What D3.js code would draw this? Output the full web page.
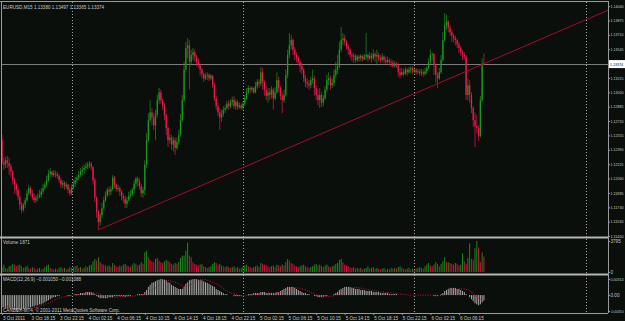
<!DOCTYPE html>
<html>
<head>
<meta charset="utf-8">
<script src="https://cdn.jsdelivr.net/npm/d3@7"></script>
<style>
html, body { margin: 0; padding: 0; background: #0b0f0c; }
svg { display: block; font-family: "Liberation Sans", Arial, sans-serif; }
</style>
</head>
<body>
<div id="main"></div>
<script>
// EURUSD M15, 3 Oct 14:15 .. 6 Oct 09:45 (open of each bar = previous close)
const firstOpen = 1.1250;
const closes = [
 1.1225,1.1222,1.1227,1.1224,1.1220,1.1214,1.1204,1.1199,1.1193,1.1185,
 1.1176,1.1170,1.1176,1.1181,1.1189,1.1195,1.1189,1.1184,1.1181,1.1184,
 1.1185,1.1187,1.1191,1.1195,1.1199,1.1204,1.1211,1.1214,1.1210,1.1212,
 1.1211,1.1209,1.1204,1.1199,1.1201,1.1197,1.1199,1.1193,1.1189,1.1195,
 1.1200,1.1204,1.1207,1.1210,1.1214,1.1216,1.1218,1.1220,1.1222,1.1223,
 1.1219,1.1204,1.1184,1.1168,1.1156,1.1164,1.1172,1.1181,1.1187,1.1193,
 1.1191,1.1194,1.1207,1.1199,1.1194,1.1195,1.1191,1.1186,1.1183,1.1177,
 1.1181,1.1186,1.1188,1.1193,1.1200,1.1206,1.1203,1.1197,1.1189,1.1193,
 1.1222,1.1250,1.1273,1.1282,1.1276,1.1267,1.1279,1.1296,1.1305,1.1296,
 1.1290,1.1279,1.1264,1.1250,1.1253,1.1245,1.1250,1.1241,1.1248,1.1256,
 1.1273,1.1296,1.1331,1.1356,1.1359,1.1340,1.1348,1.1351,1.1346,1.1340,
 1.1336,1.1331,1.1326,1.1321,1.1324,1.1325,1.1321,1.1324,1.1313,1.1298,
 1.1289,1.1282,1.1276,1.1280,1.1285,1.1287,1.1292,1.1289,1.1294,1.1296,
 1.1289,1.1294,1.1288,1.1290,1.1287,1.1292,1.1298,1.1305,1.1310,1.1308,
 1.1310,1.1305,1.1312,1.1317,1.1315,1.1328,1.1317,1.1308,1.1301,1.1305,
 1.1302,1.1308,1.1298,1.1305,1.1319,1.1310,1.1301,1.1296,1.1302,1.1325,
 1.1348,1.1359,1.1365,1.1354,1.1348,1.1344,1.1340,1.1335,1.1331,1.1321,
 1.1317,1.1315,1.1313,1.1319,1.1321,1.1310,1.1302,1.1296,1.1302,1.1293,
 1.1298,1.1308,1.1319,1.1321,1.1313,1.1316,1.1325,1.1331,1.1335,1.1354,
 1.1365,1.1367,1.1363,1.1357,1.1354,1.1348,1.1346,1.1347,1.1342,1.1346,
 1.1344,1.1347,1.1343,1.1346,1.1348,1.1344,1.1347,1.1344,1.1349,1.1346,
 1.1348,1.1344,1.1342,1.1346,1.1342,1.1340,1.1342,1.1340,1.1339,1.1335,
 1.1338,1.1336,1.1328,1.1325,1.1328,1.1326,1.1331,1.1328,1.1331,1.1333,
 1.1329,1.1331,1.1328,1.1329,1.1327,1.1328,1.1326,1.1329,1.1333,1.1340,
 1.1348,1.1349,1.1336,1.1325,1.1321,1.1328,1.1342,1.1365,1.1382,1.1386,
 1.1379,1.1374,1.1370,1.1367,1.1365,1.1360,1.1356,1.1351,1.1348,1.1346,
 1.1302,1.1313,1.1302,1.1287,1.1273,1.1266,1.1264,1.1255,1.1296,1.1338,
 1.13374];
const highs = [
 1.1256,1.1230,1.1231,1.1232,1.1230,1.1223,1.1216,1.1207,1.1201,1.1195,
 1.1187,1.1179,1.1178,1.1184,1.1193,1.1199,1.1197,1.1193,1.1189,1.1187,
 1.1189,1.1193,1.1195,1.1200,1.1202,1.1209,1.1216,1.1218,1.1215,1.1216,
 1.1215,1.1214,1.1211,1.1207,1.1204,1.1203,1.1202,1.1200,1.1196,1.1199,
 1.1204,1.1208,1.1210,1.1215,1.1218,1.1220,1.1222,1.1224,1.1225,1.1226,
 1.1225,1.1220,1.1207,1.1186,1.1170,1.1166,1.1178,1.1185,1.1191,1.1195,
 1.1197,1.1197,1.1210,1.1209,1.1200,1.1199,1.1197,1.1193,1.1189,1.1186,
 1.1185,1.1191,1.1193,1.1196,1.1204,1.1208,1.1208,1.1206,1.1200,1.1196,
 1.1227,1.1258,1.1281,1.1296,1.1287,1.1281,1.1285,1.1302,1.1310,1.1308,
 1.1298,1.1293,1.1281,1.1266,1.1257,1.1256,1.1254,1.1253,1.1253,1.1262,
 1.1280,1.1302,1.1340,1.1363,1.1367,1.1365,1.1354,1.1356,1.1354,1.1348,
 1.1344,1.1338,1.1333,1.1328,1.1327,1.1328,1.1327,1.1326,1.1325,1.1316,
 1.1301,1.1293,1.1287,1.1285,1.1289,1.1290,1.1295,1.1296,1.1297,1.1300,
 1.1301,1.1297,1.1296,1.1293,1.1292,1.1294,1.1302,1.1310,1.1313,1.1312,
 1.1312,1.1311,1.1317,1.1320,1.1320,1.1334,1.1333,1.1319,1.1312,1.1310,
 1.1310,1.1312,1.1310,1.1311,1.1328,1.1323,1.1312,1.1305,1.1308,1.1331,
 1.1354,1.1373,1.1371,1.1367,1.1357,1.1351,1.1347,1.1342,1.1339,1.1333,
 1.1325,1.1321,1.1319,1.1323,1.1331,1.1324,1.1313,1.1308,1.1310,1.1305,
 1.1302,1.1312,1.1325,1.1328,1.1324,1.1321,1.1331,1.1340,1.1348,1.1363,
 1.1380,1.1373,1.1371,1.1365,1.1360,1.1356,1.1351,1.1350,1.1349,1.1348,
 1.1348,1.1349,1.1348,1.1349,1.1373,1.1349,1.1351,1.1350,1.1354,1.1351,
 1.1354,1.1351,1.1348,1.1350,1.1348,1.1346,1.1346,1.1344,1.1343,1.1342,
 1.1341,1.1340,1.1339,1.1333,1.1333,1.1332,1.1334,1.1333,1.1334,1.1335,
 1.1335,1.1334,1.1333,1.1332,1.1332,1.1332,1.1331,1.1333,1.1335,1.1344,
 1.1354,1.1351,1.1350,1.1338,1.1328,1.1333,1.1348,1.1374,1.1396,1.1394,
 1.1388,1.1382,1.1377,1.1372,1.1370,1.1367,1.1363,1.1358,1.1354,1.1351,
 1.1348,1.1321,1.1319,1.1305,1.1289,1.1282,1.1279,1.1267,1.1301,1.1344,
 1.13497];
const lows = [
 1.1222,1.1216,1.1218,1.1218,1.1210,1.1208,1.1199,1.1189,1.1187,1.1181,
 1.1170,1.1166,1.1168,1.1172,1.1179,1.1187,1.1186,1.1181,1.1178,1.1178,
 1.1180,1.1183,1.1184,1.1188,1.1193,1.1196,1.1202,1.1208,1.1207,1.1208,
 1.1207,1.1206,1.1201,1.1195,1.1195,1.1193,1.1194,1.1189,1.1186,1.1187,
 1.1193,1.1196,1.1201,1.1204,1.1208,1.1210,1.1212,1.1216,1.1217,1.1218,
 1.1216,1.1199,1.1179,1.1161,1.1147,1.1152,1.1161,1.1170,1.1179,1.1185,
 1.1186,1.1187,1.1192,1.1195,1.1191,1.1191,1.1186,1.1181,1.1178,1.1172,
 1.1172,1.1180,1.1183,1.1186,1.1189,1.1195,1.1197,1.1193,1.1185,1.1184,
 1.1187,1.1218,1.1248,1.1271,1.1267,1.1262,1.1250,1.1276,1.1292,1.1292,
 1.1285,1.1273,1.1256,1.1242,1.1246,1.1239,1.1237,1.1233,1.1239,1.1245,
 1.1254,1.1271,1.1294,1.1328,1.1344,1.1308,1.1336,1.1342,1.1340,1.1335,
 1.1333,1.1324,1.1321,1.1317,1.1319,1.1319,1.1318,1.1319,1.1310,1.1295,
 1.1285,1.1278,1.1262,1.1271,1.1277,1.1281,1.1285,1.1285,1.1287,1.1290,
 1.1286,1.1285,1.1285,1.1286,1.1285,1.1285,1.1289,1.1296,1.1303,1.1304,
 1.1305,1.1303,1.1304,1.1309,1.1310,1.1312,1.1308,1.1301,1.1296,1.1293,
 1.1296,1.1298,1.1285,1.1296,1.1303,1.1305,1.1296,1.1281,1.1293,1.1300,
 1.1321,1.1344,1.1354,1.1348,1.1342,1.1339,1.1336,1.1328,1.1326,1.1317,
 1.1311,1.1310,1.1308,1.1310,1.1315,1.1301,1.1296,1.1290,1.1287,1.1288,
 1.1289,1.1296,1.1305,1.1313,1.1308,1.1310,1.1312,1.1321,1.1326,1.1333,
 1.1351,1.1359,1.1359,1.1354,1.1348,1.1344,1.1341,1.1339,1.1339,1.1340,
 1.1340,1.1341,1.1340,1.1342,1.1342,1.1340,1.1342,1.1339,1.1342,1.1340,
 1.1336,1.1340,1.1339,1.1340,1.1338,1.1336,1.1338,1.1336,1.1334,1.1333,
 1.1333,1.1333,1.1323,1.1321,1.1324,1.1323,1.1325,1.1324,1.1326,1.1327,
 1.1326,1.1327,1.1325,1.1326,1.1324,1.1324,1.1323,1.1324,1.1326,1.1331,
 1.1338,1.1342,1.1325,1.1316,1.1310,1.1319,1.1326,1.1340,1.1363,1.1377,
 1.1374,1.1370,1.1363,1.1362,1.1359,1.1356,1.1350,1.1347,1.1342,1.1342,
 1.1296,1.1296,1.1293,1.1281,1.1265,1.1242,1.1258,1.1249,1.1253,1.1294,
 1.13365];
const volumes = [
 600,900,500,400,700,800,1000,900,700,800,
 900,700,500,600,800,500,400,600,500,300,
 400,500,300,400,600,800,900,500,400,300,
 400,300,500,600,400,500,300,400,600,500,
 600,700,800,500,600,400,500,700,600,800,
 900,1300,1600,1400,1800,1200,1000,900,800,700,
 800,600,1100,900,700,600,800,700,900,1000,
 800,700,600,900,1100,1000,800,900,1200,1000,
 2400,2600,1800,1500,1300,1200,1600,1700,1400,1200,
 1100,1300,1500,1400,1200,1000,900,1100,1000,1200,
 1700,2000,2000,2600,3600,2000,1800,1200,1000,900,
 800,900,1000,700,600,500,600,700,1000,1200,
 1100,900,1000,800,700,600,700,600,500,600,
 700,500,600,400,500,600,800,900,700,600,
 500,600,700,800,600,1100,1000,900,800,700,
 600,700,800,600,900,800,700,900,800,1200,
 1600,1400,1100,1000,800,700,600,700,800,900,
 700,600,500,600,700,900,1000,800,900,700,
 600,800,900,700,600,700,800,1000,1100,1500,
 1600,1200,900,800,700,600,500,600,400,500,
 400,500,300,400,500,700,400,500,600,400,
 500,400,300,400,500,300,400,300,500,400,
 500,400,600,700,500,400,300,400,500,300,
 400,300,400,500,600,500,400,700,900,1100,
 800,700,900,1200,1000,700,1000,1300,1800,1200,
 1200,1100,1000,900,1100,1000,800,900,2300,1300,
 1000,1700,3500,1600,1500,2900,3795,3000,1200,2400,
 1871];
const macd = [
 -0.0024,-0.0024,-0.0025,-0.0025,-0.0025,-0.0027,-0.0027,-0.0029,-0.0029,-0.0029,-0.0029,-0.0029,-0.0027,
 -0.0027,-0.0025,-0.0024,-0.0024,-0.0022,-0.0022,-0.0020,-0.0020,-0.0018,-0.0018,-0.0016,
 -0.0014,-0.0012,-0.0010,-0.0008,-0.0006,-0.0004,-0.0004,-0.0002,-0.0002,0,
 0,0,0,-0.0002,-0.0002,0,0,0.0002,0.0002,0.0002,0.0004,0.0004,0.0004,0.0006,0.0006,
 0.0006,0.0006,0.0004,0.0002,-0.0002,
 -0.0004,-0.0006,-0.0006,-0.0006,-0.0006,-0.0006,-0.0004,-0.0004,-0.0004,
 -0.0002,-0.0002,-0.0002,-0.0002,-0.0002,-0.0002,-0.0004,-0.0002,-0.0002,-0.0002,0,0,
 0,0.0002,0.0002,0.0002,0.0002,
 0.0006,0.0010,0.0016,0.0020,0.0024,0.0025,0.0027,0.0029,0.0030,0.00314,0.0031,0.0030,0.0029,
 0.0025,0.0024,0.0020,0.0018,0.0016,0.0014,0.0012,0.0012,
 0.0012,0.0016,0.0022,0.0025,0.0029,0.0030,0.0031,0.00314,0.0031,0.0030,
 0.0029,0.0029,0.0027,0.0025,0.0024,0.0022,0.0020,0.0018,
 0.0016,0.0012,0.0010,0.0008,0.0006,0.0004,0.0002,0.0002,
 0,0,0,-0.0002,-0.0002,-0.0002,-0.0002,-0.0002,0,0,0,
 0.0002,0.0002,0.0002,0.0004,0.0004,0.0004,0.0004,0.0006,0.0006,0.0006,0.0004,0.0004,0.0004,0.0004,0.0004,0.0004,0.0006,
 0.0006,0.0008,0.0010,0.0012,0.0014,0.0016,0.0016,0.0016,0.0016,0.0014,0.0012,0.0010,0.0008,0.0006,0.0004,0.0004,0.0002,0.0002,
 0,0,-0.0002,-0.0002,-0.0004,-0.0004,-0.0004,-0.0004,-0.0002,-0.0002,0,0,0,0.0002,
 0.0004,0.0006,0.0010,0.0012,0.0014,0.0016,0.0016,0.0016,0.0016,0.0014,0.0014,0.0012,0.0012,0.0012,
 0.0010,0.0010,0.0010,0.0008,0.0008,0.0008,0.0008,0.0006,0.0006,0.0006,0.0006,0.0004,0.0004,0.0004,0.0004,0.0004,0.0002,0.0002,
 0.0002,0.0002,0.0002,0,0,0,0,0,0,0,0,0,0,0,0,0,0,0,0,0,0,0,0,-0.0002,-0.0002,
 -0.0002,0,0.0002,0.0004,0.0008,0.0010,0.0012,0.0014,0.0014,0.0014,0.0014,0.0012,0.0012,0.0010,0.0008,
 0.0006,0.0002,0,-0.0004,-0.0008,-0.0012,-0.0016,-0.0018,-0.0020,-0.0018,-0.0014,-0.00105];
const signal = [
 -0.0020,-0.0021,-0.0022,-0.0022,-0.0023,-0.0024,-0.0025,-0.0025,-0.0025,-0.0026,-0.0027,-0.0027,-0.0027,
 -0.0027,-0.0027,-0.0026,-0.0025,-0.0025,-0.0024,-0.0024,-0.0022,-0.0022,-0.0020,-0.0020,
 -0.0018,-0.0017,-0.0016,-0.0014,-0.0012,-0.0010,-0.0009,-0.0007,-0.0006,-0.0004,
 -0.0004,-0.0003,-0.0002,-0.0002,-0.0001,-0.0001,0,0,0,0.0001,0.0002,0.0002,0.0003,0.0004,0.0004,
 0.0005,0.0005,0.0005,0.0004,0.0004,
 0.0003,0.0002,0,-0.0001,-0.0002,-0.0003,-0.0004,-0.0005,-0.0005,
 -0.0004,-0.0004,-0.0004,-0.0003,-0.0003,-0.0003,-0.0002,-0.0002,-0.0002,-0.0002,-0.0002,-0.0002,
 -0.0001,0,0,0,0.0001,
 0.0002,0.0003,0.0004,0.0006,0.0009,0.0012,0.0014,0.0017,0.0020,0.0022,0.0024,0.0025,0.0027,
 0.0028,0.0028,0.0027,0.0026,0.0025,0.0024,0.0022,0.0020,
 0.0018,0.0017,0.0017,0.0018,0.0019,0.0021,0.0023,0.0025,0.0027,0.0029,
 0.0030,0.0031,0.0031,0.0030,0.0029,0.0028,0.0027,0.0025,
 0.0024,0.0022,0.0020,0.0018,0.0016,0.0013,0.0010,0.0008,
 0.0006,0.0004,0.0003,0.0002,0.0001,0,-0.0001,-0.0001,-0.0001,-0.0001,-0.0001,
 -0.0001,0,0,0.0001,0.0001,0.0002,0.0002,0.0003,0.0004,0.0004,0.0004,0.0004,0.0004,0.0004,0.0004,0.0004,0.0004,
 0.0005,0.0005,0.0006,0.0007,0.0008,0.0009,0.0010,0.0012,0.0013,0.0014,0.0014,0.0014,0.0013,0.0012,0.0011,0.0010,0.0008,0.0007,
 0.0005,0.0004,0.0002,0.0001,0,-0.0001,-0.0002,-0.0002,-0.0003,-0.0003,-0.0003,-0.0002,-0.0002,-0.0001,
 0,0.0001,0.0002,0.0004,0.0006,0.0008,0.0010,0.0011,0.0013,0.0014,0.0014,0.0015,0.0015,0.0014,
 0.0014,0.0013,0.0012,0.0011,0.0011,0.0010,0.0009,0.0009,0.0008,0.0008,0.0007,0.0006,0.0006,0.0006,0.0005,0.0005,0.0004,0.0004,
 0.0004,0.0003,0.0003,0.0002,0.0002,0.0002,0.0001,0.0001,0.0001,0,0,0,0,0,0,0,0,0,0,0,0,0,0,0,0,
 -0.0001,-0.0001,-0.0001,0,0.0001,0.0002,0.0004,0.0006,0.0007,0.0009,0.0010,0.0011,0.0012,0.0012,0.0012,
 0.0012,0.0011,0.0010,0.0008,0.0006,0.0003,0,-0.0003,-0.0006,-0.0008,-0.0010,-0.001088];

const priceTicks = [1.11400,1.11565,1.11730,1.11895,1.12060,1.12225,1.12390,1.12555,1.12720,
  1.12885,1.13050,1.13215,1.13380,1.13545,1.13710,1.13875,1.14040];
const volTicks = [0, 3795];
const macdTicks = [-0.0031, 0, 0.00314];
const macdTickLabels = ["-0.00310", "0.00", "0.00314"];
const timeTickBars = [0,16,32,48,64,80,96,112,128,144,160,176,192,208,224,240,256];
const timeLabels = ["3 Oct 2011","3 Oct 18:15","3 Oct 22:15","4 Oct 02:15","4 Oct 06:15",
  "4 Oct 10:15","4 Oct 14:15","4 Oct 18:15","4 Oct 22:15","5 Oct 02:15","5 Oct 06:15",
  "5 Oct 10:15","5 Oct 14:15","5 Oct 18:15","5 Oct 22:15","6 Oct 02:15","6 Oct 06:15"];
const daySeparators = [39, 135, 231, 327];   // first bar of each day
const trendFrom = [54, 1.1147];
const trendThrough = [200, 1.1276];

const width = 625, height = 321;
const plotRight = 608;
const barStep = 1.785;
const axisColor = "#c8c8c8";
const frameColor = "#9a9a9a";
const fs = 4.6;
const labelRoom = 13;   // space left of the window edge for right-hand labels

const x = d3.scaleLinear().domain([0, 340]).range([2, 2 + 340 * barStep]);
const yPrice = d3.scaleLinear().domain([1.114, 1.1411]).range([236, 0]);
const yVol = d3.scaleLinear().domain([0, 3795]).range([272, 241]);
const yMacd = d3.scaleLinear().domain([-0.0031, 0.00314]).range([311, 279]);

const bars = closes.map(function(c, i) {
  return {i: i, o: i ? closes[i - 1] : firstOpen, h: highs[i], l: lows[i], c: c,
          v: volumes[i], pv: i ? volumes[i - 1] : volumes[i], m: macd[i], s: signal[i]};
});
const last = bars[bars.length - 1];

const svg = d3.select("#main").append("svg")
  .attr("width", width).attr("height", height);

svg.append("rect").attr("width", width).attr("height", height).attr("fill", "#0b0f0c");

svg.append("clipPath").attr("id", "mainClip")
  .append("rect").attr("x", 0).attr("y", 0).attr("width", plotRight).attr("height", 236);

// day separators (dotted)
svg.append("g").selectAll("line").data(daySeparators).join("line")
  .attr("x1", d => Math.round(x(d)) + 0.5).attr("x2", d => Math.round(x(d)) + 0.5)
  .attr("y1", 2).attr("y2", 313)
  .attr("stroke", "#a0a0a0").attr("stroke-width", 1).attr("stroke-dasharray", "1,2");

// bid line
svg.append("line")
  .attr("x1", 2).attr("x2", plotRight)
  .attr("y1", Math.round(yPrice(last.c)) + 0.5).attr("y2", Math.round(yPrice(last.c)) + 0.5)
  .attr("stroke", "#7c7c7c").attr("stroke-width", 1);

// candles
const upCol = "#1b9a1b", downCol = "#ee1a4c";
const candles = svg.append("g");
candles.selectAll("line").data(bars).join("line")
  .attr("x1", d => x(d.i)).attr("x2", d => x(d.i))
  .attr("y1", d => yPrice(d.h)).attr("y2", d => yPrice(d.l))
  .attr("stroke", d => d.c >= d.o ? upCol : downCol)
  .attr("stroke-opacity", 0.75).attr("stroke-width", 0.9);
candles.selectAll("rect").data(bars).join("rect")
  .attr("x", d => x(d.i) - 0.65).attr("width", 1.3)
  .attr("y", d => yPrice(Math.max(d.o, d.c)))
  .attr("height", d => Math.max(0.8, Math.abs(yPrice(d.o) - yPrice(d.c))))
  .attr("fill", d => d.c >= d.o ? upCol : downCol);

// trend line (ray)
const slope = (trendThrough[1] - trendFrom[1]) / (trendThrough[0] - trendFrom[0]);
svg.append("line")
  .attr("clip-path", "url(#mainClip)")
  .attr("x1", x(trendFrom[0])).attr("y1", yPrice(trendFrom[1]))
  .attr("x2", x(340)).attr("y2", yPrice(trendFrom[1] + slope * (340 - trendFrom[0])))
  .attr("stroke", "#a20c28").attr("stroke-width", 1);

// volumes
svg.append("g").selectAll("line").data(bars).join("line")
  .attr("x1", d => x(d.i)).attr("x2", d => x(d.i))
  .attr("y1", yVol(0)).attr("y2", d => yVol(d.v))
  .attr("stroke", d => d.v >= d.pv ? "#1a8a1a" : "#d0123c").attr("stroke-width", 1);

// MACD histogram + signal
svg.append("g").selectAll("line").data(bars).join("line")
  .attr("x1", d => x(d.i)).attr("x2", d => x(d.i))
  .attr("y1", yMacd(0)).attr("y2", d => yMacd(d.m))
  .attr("stroke", "#b8b8b8").attr("stroke-width", 0.9);
svg.append("path").datum(bars)
  .attr("d", d3.line().x(d => x(d.i)).y(d => yMacd(d.s)))
  .attr("fill", "none").attr("stroke", "#e0102e").attr("stroke-width", 1)
  .attr("stroke-dasharray", "1,1.5");

// frame
const frame = svg.append("g").attr("stroke", frameColor);
frame.append("line").attr("x1", 0).attr("x2", plotRight).attr("y1", 1.5).attr("y2", 1.5);
frame.append("line").attr("x1", 1.5).attr("x2", 1.5).attr("y1", 1).attr("y2", 313);
frame.append("line").attr("x1", plotRight + 0.5).attr("x2", plotRight + 0.5).attr("y1", 1).attr("y2", 313);
frame.append("line").attr("x1", 0).attr("x2", plotRight).attr("y1", 313.5).attr("y2", 313.5);
[237.5, 274.5].forEach(function(yy) {
  frame.append("line").attr("x1", 0).attr("x2", plotRight).attr("y1", yy).attr("y2", yy)
    .attr("stroke", "#b4b4b4").attr("stroke-width", 2);
});

// shrink a right-hand label until it fits before the window edge
function fitText(sel) {
  sel.each(function() {
    const w = this.getComputedTextLength();
    if (w > labelRoom) d3.select(this).attr("font-size", fs * labelRoom / w);
  });
}

// right axes
function styleAxis(g) {
  g.select(".domain").remove();
  g.selectAll(".tick line").attr("stroke", frameColor);
  g.selectAll("text").attr("fill", axisColor).attr("font-size", fs)
    .attr("font-family", "Liberation Sans, Arial, sans-serif");
}
svg.append("g").attr("transform", "translate(" + plotRight + ",0)")
  .call(d3.axisRight(yPrice).tickValues(priceTicks).tickFormat(d3.format(".5f")).tickSize(2).tickPadding(0.5))
  .call(styleAxis)
  .call(g => g.selectAll("text").call(fitText));
svg.append("g").attr("transform", "translate(" + plotRight + ",0)")
  .call(d3.axisRight(yVol).tickValues(volTicks).tickFormat(d3.format("d")).tickSize(2).tickPadding(0.5))
  .call(styleAxis);
svg.append("g").attr("transform", "translate(" + plotRight + ",0)")
  .call(d3.axisRight(yMacd).tickValues(macdTicks).tickFormat((d, i) => macdTickLabels[i]).tickSize(2).tickPadding(0.5))
  .call(styleAxis)
  .call(g => g.selectAll("text").call(fitText));

// current price box
const py = yPrice(last.c);
svg.append("rect").attr("x", plotRight + 1).attr("y", py - 4).attr("width", 16).attr("height", 8)
  .attr("fill", "#ffffff");
svg.append("text").attr("x", plotRight + 2).attr("y", py + 1.6)
  .attr("font-size", fs).attr("fill", "#000").text(d3.format(".5f")(last.c))
  .call(fitText);

// time axis
svg.append("g").attr("transform", "translate(0,313)")
  .call(d3.axisBottom(x).tickValues(timeTickBars).tickFormat((d, i) => timeLabels[i]).tickSize(2).tickPadding(1))
  .call(styleAxis)
  .call(g => g.selectAll("text").attr("text-anchor", "start").attr("x", 0.5).attr("dy", "0.9em"));

// labels
const fmt5 = d3.format(".5f"), fmt6 = d3.format(".6f");
svg.append("text").attr("x", 3).attr("y", 8.5).attr("font-size", fs).attr("fill", axisColor)
  .text("EURUSD,M15  " + [last.o, last.h, last.l, last.c].map(fmt5).join(" "));
svg.append("text").attr("x", 3).attr("y", 244).attr("font-size", fs).attr("fill", axisColor)
  .text("Volume " + last.v);
svg.append("text").attr("x", 3).attr("y", 281).attr("font-size", fs).attr("fill", axisColor)
  .text("MACD(12,26,9) " + fmt6(last.m) + " " + fmt6(last.s));
svg.append("text").attr("x", 3).attr("y", 311.5).attr("font-size", fs).attr("fill", axisColor)
  .text("CANDEX-MT4, \u00a9 2001-2011 MetaQuotes Software Corp.");
</script>
</body>
</html>
